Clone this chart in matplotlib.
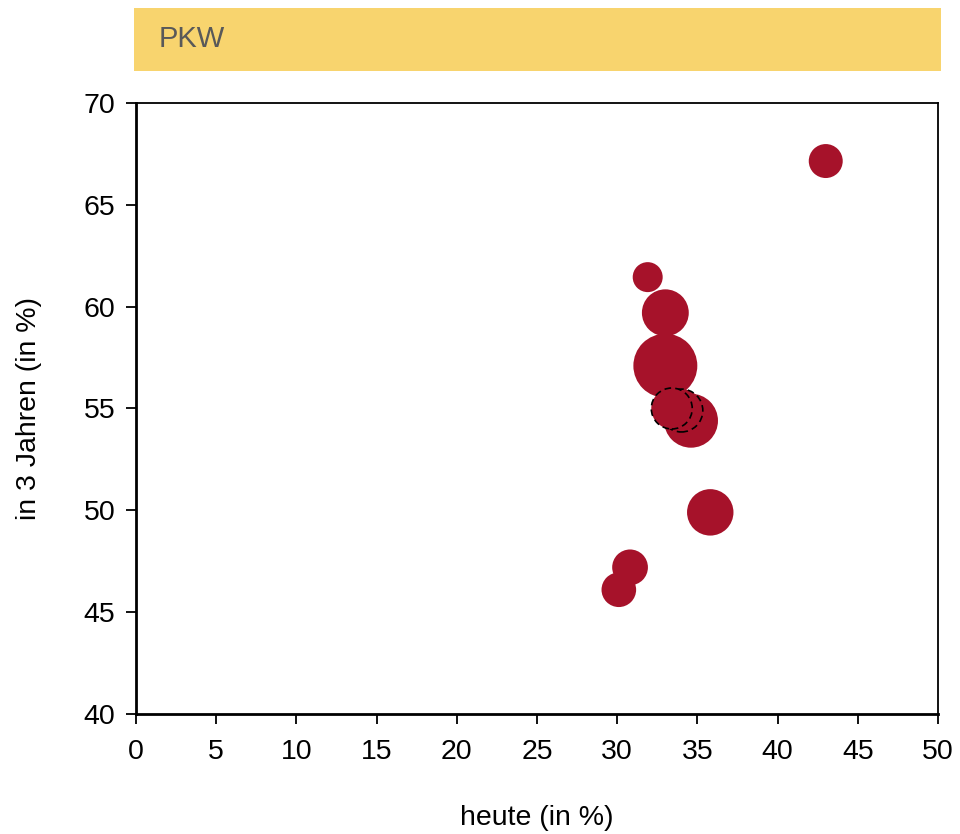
import matplotlib.pyplot as plt
import matplotlib.patches as patches

plt.rcParams['font.family'] = ['Liberation Sans', 'DejaVu Sans']

# Anteile heute / in 3 Jahren, Blasengroesse relativ
heute = [43.0, 31.9, 33.0, 33.0, 34.6, 30.8, 30.1, 35.8]
in_3_jahren = [67.15, 61.45, 59.7, 57.1, 54.4, 47.2, 46.1, 49.9]
groesse = [289, 225, 550, 1024, 729, 320, 300, 540]

# gestrichelt markierte Werte (Vergleich)
heute_markiert = [34.0, 33.4]
jahre_markiert = [54.9, 55.0]
groesse_markiert = [460, 420]

rot = '#A6122A'
skala = 2.07

fig = plt.figure(figsize=(9.6, 8.34), dpi=100)

# Titelband
fig.patches.append(patches.Rectangle((0.1396, 0.9149), 0.8406, 0.0755,
                                     transform=fig.transFigure,
                                     facecolor='#F8D46E', edgecolor='none'))
fig.text(0.165, 0.953, 'PKW', fontsize=21, color='#595959', va='center', ha='left')

ax = fig.add_axes([0.1417, 0.1439, 0.8354, 0.7326])
ax.scatter(heute, in_3_jahren, s=[g * skala for g in groesse], color=rot,
           edgecolors='none', zorder=3)
ax.scatter(heute_markiert, jahre_markiert,
           s=[g * skala for g in groesse_markiert], color=rot,
           edgecolors='black', linestyles=(0, (4, 2.5)), linewidths=1.2, zorder=4)

ax.set_xlim(0, 50)
ax.set_ylim(40, 70)
ax.set_xticks(range(0, 51, 5))
ax.set_yticks(range(40, 71, 5))
ax.tick_params(axis='both', labelsize=20.5, length=7, width=1.3, direction='out', pad=11)
ax.tick_params(axis='y', pad=8)
for s in ax.spines.values():
    s.set_linewidth(1.3)
ax.spines['bottom'].set_linewidth(2)
ax.spines['left'].set_linewidth(2)

ax.set_xlabel('heute (in %)', fontsize=20.5, labelpad=29)
ax.set_ylabel('in 3 Jahren (in %)', fontsize=20.5, labelpad=30)

fig.savefig('out.png', dpi=100)
